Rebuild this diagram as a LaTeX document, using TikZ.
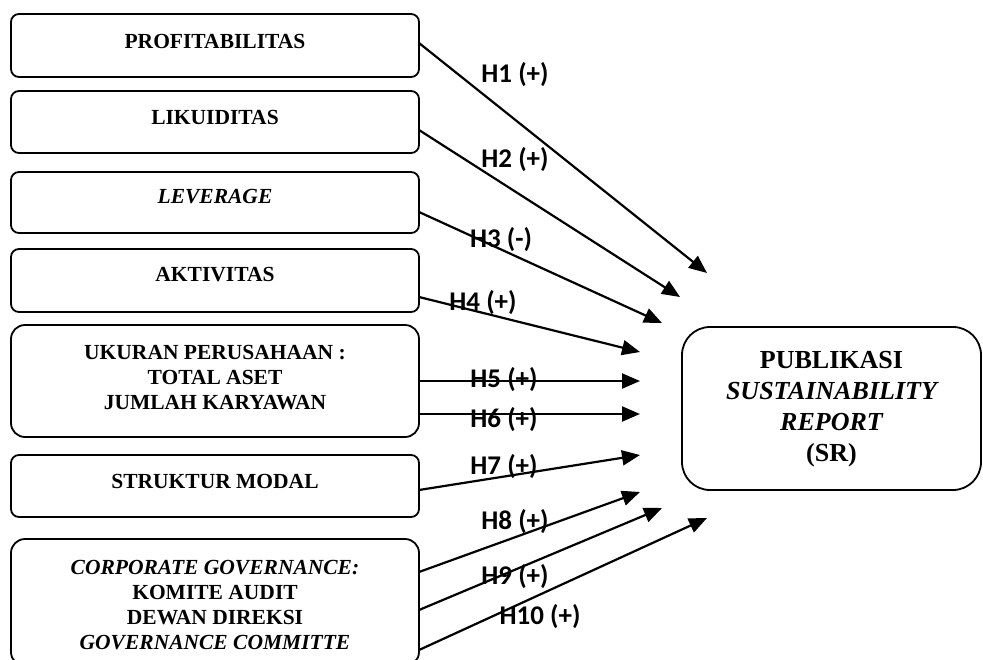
\documentclass[tikz,border=0pt]{standalone}
\usepackage{fontspec}
\setmainfont{Liberation Serif}
\newfontfamily\labfont{Carlito}
\usetikzlibrary{arrows.meta}
\tikzset{
  lbox/.style={draw, line width=1.8pt, rounded corners=8pt, minimum width=408pt, inner sep=0pt, outer sep=0pt},
  bigbox/.style={lbox, rounded corners=14pt},
  rbox/.style={draw, line width=1.8pt, rounded corners=28pt, inner sep=0pt, outer sep=0pt},
  ltext/.style={font=\fontsize{21.5}{25}\selectfont\bfseries, align=center, inner sep=0pt},
  rtext/.style={font=\fontsize{26}{31}\selectfont\bfseries, align=center, inner sep=0pt},
  hlab/.style={font=\labfont\fontsize{27}{30}\selectfont\bfseries, inner sep=0pt},
  arr/.style={line width=2.2pt, -{Triangle[length=18pt,width=15pt]}}
}
\begin{document}
\begin{tikzpicture}[x=1pt,y=-1pt]
\useasboundingbox (0,0) rectangle (983,659);
% left boxes
\node[lbox, minimum height=63pt] (b1) at (215,45.5) {};
\node[lbox, minimum height=62pt] (b2) at (215,122) {};
\node[lbox, minimum height=61pt] (b3) at (215,202.5) {};
\node[lbox, minimum height=63pt] (b4) at (215,280.5) {};
\node[bigbox, minimum height=112pt] (b5) at (215,381) {};
\node[lbox, minimum height=62pt] (b6) at (215,486) {};
\node[bigbox, minimum height=127pt] (b7) at (215,602.5) {};
% right box
\node[rbox, minimum width=299pt, minimum height=163pt] (r) at (831.5,408.5) {};
% texts
\node[ltext] (t1) at (215,41) {PROFITABILITAS};
\node[ltext] (t2) at (215,117) {LIKUIDITAS};
\node[ltext] (t3) at (215,197) {\itshape LEVERAGE};
\node[ltext] (t4) at (215,275) {AKTIVITAS};
\node[ltext] (t5) at (215,378) {UKURAN PERUSAHAAN :\\TOTAL ASET\\JUMLAH KARYAWAN};
\node[ltext] (t6) at (215,481) {STRUKTUR MODAL};
\node[ltext, font=\fontsize{21.5}{24.7}\selectfont\bfseries] (t7) at (215,605) {\itshape CORPORATE GOVERNANCE:\\KOMITE AUDIT\\DEWAN DIREKSI\\\itshape GOVERNANCE COMMITTE};
\node[rtext] (tr) at (831.5,409) {PUBLIKASI\\\itshape SUSTAINABILITY\\\itshape REPORT\\(SR)};
% arrow tips
\coordinate (e1) at (707,273);
\coordinate (e2) at (680,297);
\coordinate (e3) at (662,323);
\coordinate (e4) at (640,352);
\coordinate (e5) at (640,381);
\coordinate (e6) at (640,414);
\coordinate (e7) at (640,455);
\coordinate (e8) at (640,492);
\coordinate (e9) at (662,508);
\coordinate (e10) at (707,518);
% arrows
\draw[arr] (b1.east |- 0,43) -- (e1);
\draw[arr] (b2.east |- 0,130) -- (e2);
\draw[arr] (b3.east |- 0,212) -- (e3);
\draw[arr] (b4.east |- 0,297) -- (e4);
\draw[arr] (b5.east |- 0,381) -- (e5);
\draw[arr] (b5.east |- 0,414) -- (e6);
\draw[arr] (b6.east |- 0,490) -- (e7);
\draw[arr] (b7.east |- 0,572) -- (e8);
\draw[arr] (b7.east |- 0,610) -- (e9);
\draw[arr] (b7.east |- 0,650) -- (e10);
% labels
\node[hlab] (h1) at (515,75) {H1 (+)};
\node[hlab] (h2) at (515,160) {H2 (+)};
\node[hlab] (h3) at (501,240) {H3 (-)};
\node[hlab] (h4) at (483,303) {H4 (+)};
\node[hlab] (h5) at (504,380) {H5 (+)};
\node[hlab] (h6) at (504,420) {H6 (+)};
\node[hlab] (h7) at (504,467) {H7 (+)};
\node[hlab] (h8) at (515,522) {H8 (+)};
\node[hlab] (h9) at (515,577) {H9 (+)};
\node[hlab] (h10) at (540,617) {H10 (+)};
\end{tikzpicture}
\end{document}
